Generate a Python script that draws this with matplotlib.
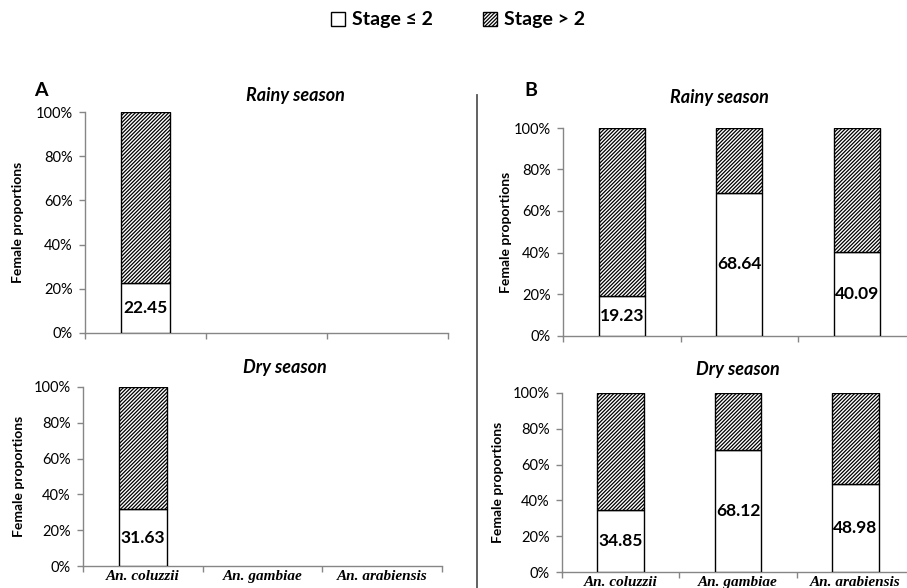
import numpy as np
import matplotlib
matplotlib.use("Agg")
import matplotlib.pyplot as plt
from matplotlib.patches import Patch
from matplotlib.ticker import FixedLocator, PercentFormatter

# ---------------- data ----------------
species = ["An. coluzzii", "An. gambiae", "An. arabiensis"]
A_rainy_le2 = [22.45, np.nan, np.nan]
A_dry_le2 = [31.63, np.nan, np.nan]
B_rainy_le2 = [19.23, 68.64, 40.09]
B_dry_le2 = [34.85, 68.12, 48.98]
season_titles = ["Rainy season", "Dry season"]
legend_labels = ["Stage \u2264 2", "Stage > 2"]
ylabel = "Female proportions"
yticks = [0, 20, 40, 60, 80, 100]

W, H = 907, 588
SANS = ["Lato", "DejaVu Sans"]
SERIF = ["Liberation Serif", "DejaVu Serif"]
GRAY = "#868686"
HATCH = "/" * 9
plt.rcParams["hatch.linewidth"] = 0.9
plt.rcParams["hatch.color"] = "#1a1a1a"

fig = plt.figure(figsize=(W / 100, H / 100), dpi=100)


def px_axes(left, right, top, bottom):
    return fig.add_axes([left / W, 1 - bottom / H, (right - left) / W, (bottom - top) / H])


def draw(ax, le2, width, show_xlabels):
    x = np.arange(len(species))
    le2 = np.array(le2, dtype=float)
    gt2 = 100 - le2
    ax.bar(x, le2 / 100, width=width, color="white", edgecolor="black", linewidth=1.0, zorder=3)
    ax.bar(x, gt2 / 100, bottom=le2 / 100, width=width, color="white", edgecolor="black",
           hatch=HATCH, linewidth=1.0, zorder=3)
    for xi, v in zip(x, le2):
        if not np.isnan(v):
            ax.text(xi, v / 200, f"{v:.2f}", ha="center", va="center", fontsize=12.5,
                    fontweight="bold", family=SANS, zorder=4)
    ax.set_xlim(-0.5, len(species) - 0.5)
    ax.set_ylim(0, 1)
    ax.set_yticks([t / 100 for t in yticks])
    ax.yaxis.set_major_formatter(PercentFormatter(1.0, decimals=0))
    ax.xaxis.set_major_locator(FixedLocator(np.arange(len(species) + 1) - 0.5))
    ax.xaxis.set_minor_locator(FixedLocator(x))
    ax.set_xticklabels([])
    if show_xlabels:
        ax.set_xticklabels(species, minor=True, fontsize=11, fontweight="bold",
                           fontstyle="italic", family=SERIF)
    ax.tick_params(axis="x", which="major", direction="out", length=4, color=GRAY, width=1)
    ax.tick_params(axis="x", which="minor", length=0, pad=3)
    ax.tick_params(axis="y", direction="out", length=4, color=GRAY, width=1, labelsize=10.5, pad=5)
    for lab in ax.get_yticklabels():
        lab.set_family(SANS)
    for s in ["top", "right"]:
        ax.spines[s].set_visible(False)
    for s in ["left", "bottom"]:
        ax.spines[s].set_color(GRAY)
        ax.spines[s].set_linewidth(1.0)


axA1 = px_axes(85, 448, 112, 333)
axA2 = px_axes(83, 442, 387, 566)
axB1 = px_axes(563, 915.5, 128, 335.5)
axB2 = px_axes(562, 914, 393, 572)

draw(axA1, A_rainy_le2, 0.405, False)
draw(axA2, A_dry_le2, 0.40, True)
draw(axB1, B_rainy_le2, 0.39, False)
draw(axB2, B_dry_le2, 0.40, True)


def ftext(x, y, s, **kw):
    fig.text(x / W, 1 - y / H, s, **kw)


title_kw = dict(ha="center", va="center", fontsize=13, fontweight="bold", fontstyle="italic", family=SANS)
ftext(295, 96, season_titles[0], **title_kw)
ftext(719, 98, season_titles[0], **title_kw)
ftext(285, 368, season_titles[1], **title_kw)
ftext(738, 370, season_titles[1], **title_kw)

yl_kw = dict(ha="center", va="center", rotation=90, fontsize=10, fontweight="bold", family=SANS)
ftext(18.5, 222, ylabel, **yl_kw)
ftext(19, 476, ylabel, **yl_kw)
ftext(506, 232, ylabel, **yl_kw)
ftext(498, 482, ylabel, **yl_kw)

ftext(41, 90, "A", ha="center", va="center", fontsize=14, fontweight="bold", family=SANS)
ftext(531, 91, "B", ha="center", va="center", fontsize=14, fontweight="bold", family=SANS)

# separator line between panels
fig.add_artist(plt.Line2D([477 / W, 477 / W], [1 - 95 / H, 0], color="#555555", linewidth=1.3))

handles = [Patch(facecolor="white", edgecolor="black", linewidth=1.0),
           Patch(facecolor="white", edgecolor="black", hatch=HATCH, linewidth=1.0)]
fig.legend(handles, legend_labels, loc="center", bbox_to_anchor=(458 / W, 1 - 20 / H), ncol=2,
           frameon=False, prop={"family": SANS, "weight": "bold", "size": 14},
           handlelength=0.7, handleheight=0.7, handletextpad=0.35, columnspacing=2.6)

fig.savefig("out.png", dpi=100)
